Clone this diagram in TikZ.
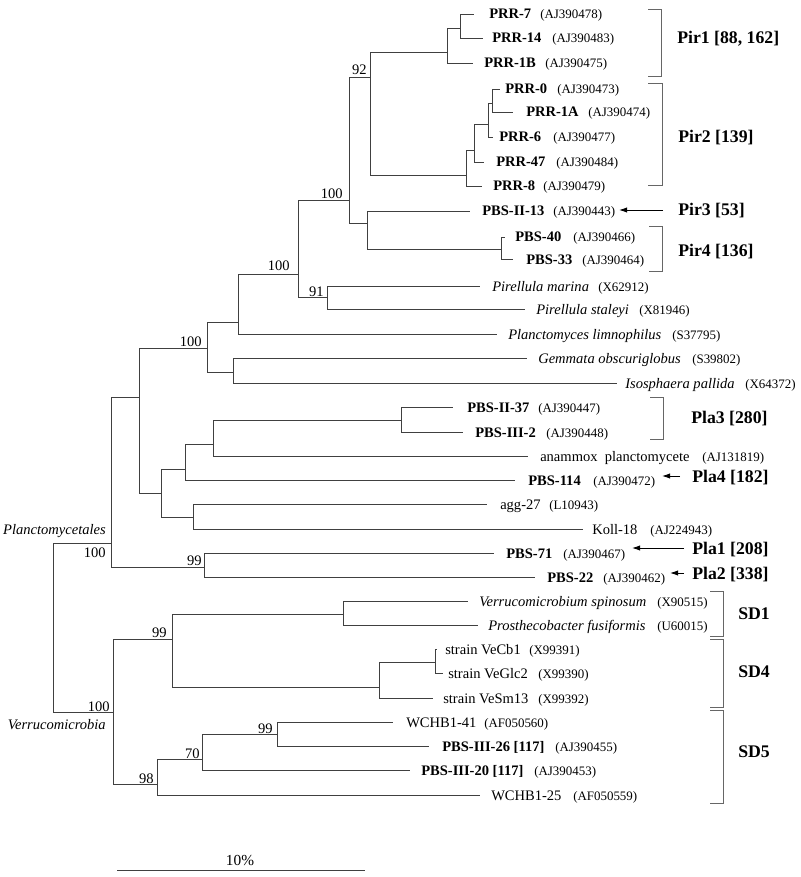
\documentclass[tikz,border=0pt]{standalone}
\usepackage{fontspec}
\setmainfont{Liberation Serif}
\usetikzlibrary{arrows.meta}
% name, y, tip x, label x, label style, label text, accession x, accession text
\newcommand\myleaf[8]{%
  \coordinate (t#1) at (#3,#2);
  \node[#5] (l#1) at (#4,#2+5) {#6};
  \node[acc] (a#1) at (#7,#2+5) {#8};}
\begin{document}
\begin{tikzpicture}[x=0.75pt,y=-0.75pt,
  br/.style={draw=black!75, line width=0.7pt},
  brk/.style={draw=black!60, line width=0.7pt},
  arr/.style={draw=black, line width=0.7pt, -{Latex[length=6pt,width=4pt]}},
  nmb/.style={anchor=base west, inner sep=0pt, font=\fontsize{10.9}{12}\selectfont\bfseries},
  nmi/.style={anchor=base west, inner sep=0pt, font=\fontsize{10.9}{12}\selectfont\itshape},
  nmr/.style={anchor=base west, inner sep=0pt, font=\fontsize{10.9}{12}\selectfont},
  acc/.style={anchor=base west, inner sep=0pt, font=\fontsize{9.7}{11}\selectfont},
  bs/.style={anchor=base east, inner sep=0pt, font=\fontsize{10.9}{12}\selectfont},
  grp/.style={anchor=base west, inner sep=0pt, font=\fontsize{13.3}{15}\selectfont\bfseries}]
\useasboundingbox (0,0) rectangle (800,877);

% ---- leaves ----
\myleaf{r7}{14}{474}{489}{nmb}{PRR-7}{540}{(AJ390478)}
\myleaf{r14}{38}{483}{492}{nmb}{PRR-14}{552}{(AJ390483)}
\myleaf{r1b}{63}{473}{484}{nmb}{PRR-1B}{545}{(AJ390475)}
\myleaf{r0}{89}{500}{505}{nmb}{PRR-0}{557}{(AJ390473)}
\myleaf{r1a}{112}{513}{526}{nmb}{PRR-1A}{588}{(AJ390474)}
\myleaf{r6}{137}{493}{499}{nmb}{PRR-6}{553}{(AJ390477)}
\myleaf{r47}{162}{484}{496}{nmb}{PRR-47}{556}{(AJ390484)}
\myleaf{r8}{186}{482}{493}{nmb}{PRR-8}{543}{(AJ390479)}
\myleaf{b13}{211}{470}{482}{nmb}{PBS-II-13}{553}{(AJ390443)}
\myleaf{b40}{237}{505}{515}{nmb}{PBS-40}{573}{(AJ390466)}
\myleaf{b33}{259}{513}{526}{nmb}{PBS-33}{582}{(AJ390464)}
\myleaf{pm}{286}{480}{492}{nmi}{Pirellula marina}{598}{(X62912)}
\myleaf{ps}{309}{525}{536}{nmi}{Pirellula staleyi}{639}{(X81946)}
\myleaf{pl}{334}{497}{508}{nmi}{Planctomyces limnophilus}{672}{(S37795)}
\myleaf{gm}{358}{527}{538}{nmi}{Gemmata obscuriglobus}{692}{(S39802)}
\myleaf{is}{383}{617}{625}{nmi}{Isosphaera pallida}{745}{(X64372)}
\myleaf{b37}{407}{453}{467}{nmb}{PBS-II-37}{538}{(AJ390447)}
\myleaf{b2}{432}{463}{475}{nmb}{PBS-III-2}{546}{(AJ390448)}
\myleaf{an}{456}{528}{540}{nmr}{anammox\ \ planctomycete}{702}{(AJ131819)}
\myleaf{b114}{480}{515}{528}{nmb}{PBS-114}{593}{(AJ390472)}
\myleaf{ag}{504}{487}{500}{nmr}{agg-27}{549}{(L10943)}
\myleaf{ko}{529}{583}{592}{nmr}{Koll-18}{650}{(AJ224943)}
\myleaf{b71}{553}{494}{506}{nmb}{PBS-71}{563}{(AJ390467)}
\myleaf{b22}{577}{535}{547}{nmb}{PBS-22}{603}{(AJ390462)}
\myleaf{vs}{601}{468}{479}{nmi}{Verrucomicrobium spinosum}{657}{(X90515)}
\myleaf{pf}{625}{478}{488}{nmi}{Prosthecobacter fusiformis}{657}{(U60015)}
\myleaf{cb}{649}{437}{445}{nmr}{strain VeCb1}{529}{(X99391)}
\myleaf{gl}{673}{443}{448}{nmr}{strain VeGlc2}{538}{(X99390)}
\myleaf{sm}{698}{433}{443}{nmr}{strain VeSm13}{538}{(X99392)}
\myleaf{w41}{722}{393}{406}{nmr}{WCHB1-41}{484}{(AF050560)}
\myleaf{b26}{746}{429}{442}{nmb}{PBS-III-26 [117]}{555}{(AJ390455)}
\myleaf{b20}{770}{410}{421}{nmb}{PBS-III-20 [117]}{534}{(AJ390453)}
\myleaf{w25}{795}{480}{491}{nmr}{WCHB1-25}{573}{(AF050559)}

% ---- internal nodes (attachment points) ----
\coordinate (nA) at (460,28);
\coordinate (nPir1) at (447,52);
\coordinate (nB) at (492,103);
\coordinate (nC) at (488,124);
\coordinate (nD) at (474,150);
\coordinate (nPir2) at (466,175);
\coordinate (n92) at (370,77);
\coordinate (nE) at (501,249);
\coordinate (nF) at (367,223);
\coordinate (n100a) at (349,200);
\coordinate (n91) at (327,297);
\coordinate (n100b) at (298,274);
\coordinate (n100c) at (238,322);
\coordinate (nG) at (233,372);
\coordinate (n100d) at (207,348);
\coordinate (nH) at (401,420);
\coordinate (nI) at (213,444);
\coordinate (nJ) at (185,469);
\coordinate (nK) at (193,517);
\coordinate (nL) at (161,493);
\coordinate (nM) at (139,397);
\coordinate (n99a) at (204,567);
\coordinate (nPlan) at (111,543);
\coordinate (nSD1) at (343,614);
\coordinate (nN) at (435,662);
\coordinate (nSD4) at (379,687);
\coordinate (n99b) at (172,639);
\coordinate (n99c) at (277,734);
\coordinate (n70) at (202,759);
\coordinate (n98) at (157,784);
\coordinate (nVer) at (113,712);
\coordinate (root) at (53,627);

% ---- branches ----
\draw[br] (nA) |- (tr7) (nA) |- (tr14);
\draw[br] (nPir1) |- (nA) (nPir1) |- (tr1b);
\draw[br] (nB) |- (tr0) (nB) |- (tr1a);
\draw[br] (nC) |- (nB) (nC) |- (tr6);
\draw[br] (nD) |- (nC) (nD) |- (tr47);
\draw[br] (nPir2) |- (nD) (nPir2) |- (tr8);
\draw[br] (n92) |- (nPir1) (n92) |- (nPir2);
\draw[br] (nE) |- (tb40) (nE) |- (tb33);
\draw[br] (nF) |- (tb13) (nF) |- (nE);
\draw[br] (n100a) |- (n92) (n100a) |- (nF);
\draw[br] (n91) |- (tpm) (n91) |- (tps);
\draw[br] (n100b) |- (n100a) (n100b) |- (n91);
\draw[br] (n100c) |- (n100b) (n100c) |- (tpl);
\draw[br] (nG) |- (tgm) (nG) |- (tis);
\draw[br] (n100d) |- (n100c) (n100d) |- (nG);
\draw[br] (nH) |- (tb37) (nH) |- (tb2);
\draw[br] (nI) |- (nH) (nI) |- (tan);
\draw[br] (nJ) |- (nI) (nJ) |- (tb114);
\draw[br] (nK) |- (tag) (nK) |- (tko);
\draw[br] (nL) |- (nJ) (nL) |- (nK);
\draw[br] (nM) |- (n100d) (nM) |- (nL);
\draw[br] (n99a) |- (tb71) (n99a) |- (tb22);
\draw[br] (nPlan) |- (nM) (nPlan) |- (n99a);
\draw[br] (nSD1) |- (tvs) (nSD1) |- (tpf);
\draw[br] (nN) |- (tcb) (nN) |- (tgl);
\draw[br] (nSD4) |- (nN) (nSD4) |- (tsm);
\draw[br] (n99b) |- (nSD1) (n99b) |- (nSD4);
\draw[br] (n99c) |- (tw41) (n99c) |- (tb26);
\draw[br] (n70) |- (n99c) (n70) |- (tb20);
\draw[br] (n98) |- (n70) (n98) |- (tw25);
\draw[br] (nVer) |- (n99b) (nVer) |- (n98);
\draw[br] (root) |- (nPlan) (root) |- (nVer);

% ---- bootstrap values ----
\node[bs] (v92) at (367,75) {92};
\node[bs] (v100a) at (343,199) {100};
\node[bs] (v100b) at (290,270) {100};
\node[bs] (v91) at (324,296) {91};
\node[bs] (v100d) at (202,346) {100};
\node[bs] (vPlan) at (106,557) {100};
\node[bs] (v99a) at (202,565) {99};
\node[bs] (v99b) at (167,637) {99};
\node[bs] (vVer) at (110,711) {100};
\node[bs] (v99c) at (273,733) {99};
\node[bs] (v70) at (200,758) {70};
\node[bs] (v98) at (154,783) {98};
\node[bs, font=\fontsize{10.9}{12}\selectfont\itshape] (tPlan) at (106,534) {Planctomycetales};
\node[bs, font=\fontsize{10.9}{12}\selectfont\itshape] (tVer) at (106,729) {Verrucomicrobia};

% ---- group brackets ----
\draw[brk] (648,9) -- (661,9) -- (661,76) -- (648,76);
\draw[brk] (648,83) -- (662,83) -- (662,185) -- (648,185);
\draw[brk] (649,226) -- (662,226) -- (662,271) -- (649,271);
\draw[brk] (650,397) -- (663,397) -- (663,439) -- (650,439);
\draw[brk] (710,591) -- (723,591) -- (723,636) -- (710,636);
\draw[brk] (710,639) -- (723,639) -- (723,707) -- (710,707);
\draw[brk] (710,710) -- (723,710) -- (723,803) -- (710,803);

% ---- group labels ----
\node[grp] (gPir1) at (677,44) {Pir1 [88, 162]};
\node[grp] (gPir2) at (678,143) {Pir2 [139]};
\node[grp] (gPir3) at (678,216) {Pir3 [53]};
\node[grp] (gPir4) at (678,257) {Pir4 [136]};
\node[grp] (gPla3) at (691,423) {Pla3 [280]};
\node[grp] (gPla4) at (692,482) {Pla4 [182]};
\node[grp] (gPla1) at (692,554) {Pla1 [208]};
\node[grp] (gPla2) at (692,579) {Pla2 [338]};
\node[grp] (gSD1) at (738,619) {SD1};
\node[grp] (gSD4) at (738,677) {SD4};
\node[grp] (gSD5) at (738,757) {SD5};

% ---- arrows ----
\coordinate (p3s) at (663,210); \coordinate (p3e) at (619,210);
\coordinate (l4s) at (680,476); \coordinate (l4e) at (662,476);
\coordinate (l1s) at (684,548); \coordinate (l1e) at (632,548);
\coordinate (l2s) at (684,573); \coordinate (l2e) at (670,573);
\draw[arr] (p3s) -- (p3e);
\draw[arr] (l4s) -- (l4e);
\draw[arr] (l1s) -- (l1e);
\draw[arr] (l2s) -- (l2e);

% ---- scale bar ----
\coordinate (sb1) at (117,870); \coordinate (sb2) at (365,870);
\draw[br] (sb1) -- (sb2);
\node[anchor=base, inner sep=0pt, font=\fontsize{11.5}{13}\selectfont] (sbl) at (240,865) {10\%};
\end{tikzpicture}
\end{document}
